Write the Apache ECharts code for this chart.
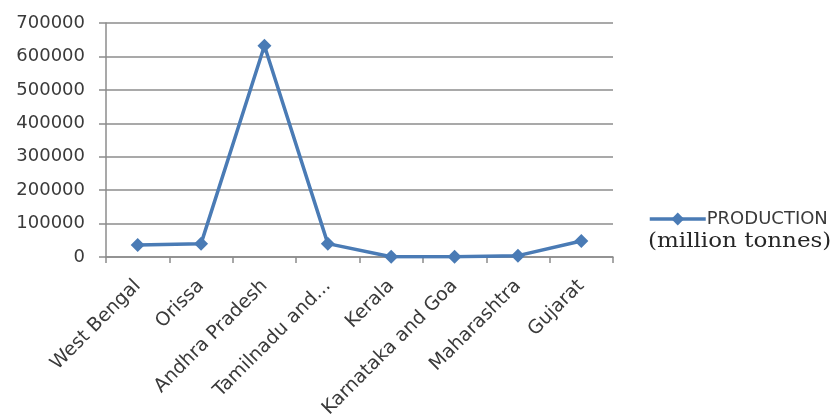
<!DOCTYPE html>
<html>
<head>
<meta charset="utf-8">
<script src="https://cdn.jsdelivr.net/npm/echarts@6/dist/echarts.min.js"></script>
<style>
  html, body { margin: 0; padding: 0; background: #ffffff; }
  #chart { width: 833px; height: 418px; }
</style>
</head>
<body>
<div id="chart"></div>
<script>
// Fish production by coastal state
const states = ['West Bengal', 'Orissa', 'Andhra Pradesh', 'Tamilnadu and...', 'Kerala', 'Karnataka and Goa', 'Maharashtra', 'Gujarat'];
const production = [36000, 40000, 632000, 40000, 1000, 1000, 4000, 48000];
const yTicks = { min: 0, max: 700000, step: 100000 };
const seriesName = 'PRODUCTION';
const unitNote = '(million tonnes)';

const lineBlue = '#4a7bb5';
const textColor = '#3a3a3a';
const gridGray = '#8c8c8c';

const chart = echarts.init(document.getElementById('chart'), null, { renderer: 'canvas' });

chart.setOption({
  backgroundColor: '#ffffff',
  animation: false,
  grid: { left: 106, right: 220, top: 23, bottom: 161, containLabel: false, outerBoundsMode: 'none' },
  legend: {
    data: [seriesName],
    left: 643,
    top: 205,
    itemWidth: 56,
    itemHeight: 16,
    itemGap: 0,
    lineStyle: { width: 3.5 },
    textStyle: { fontFamily: 'DejaVu Sans', fontSize: 18, color: textColor, padding: [0, 0, 0, -4] }
  },
  xAxis: {
    type: 'category',
    data: states,
    boundaryGap: true,
    axisLine: { lineStyle: { color: gridGray, width: 1.5 } },
    axisTick: { show: true, length: 6, lineStyle: { color: gridGray, width: 1.5 } },
    axisLabel: {
      interval: 0,
      rotate: 45,
      margin: 26,
      fontFamily: 'DejaVu Sans',
      fontSize: 19,
      color: textColor
    }
  },
  yAxis: {
    type: 'value',
    min: yTicks.min,
    max: yTicks.max,
    interval: yTicks.step,
    axisLine: { show: true, lineStyle: { color: gridGray, width: 1.5 } },
    axisTick: { show: true, length: 7, lineStyle: { color: gridGray, width: 1.5 } },
    splitLine: { show: true, lineStyle: { color: gridGray, width: 1.5 } },
    axisLabel: {
      margin: 21,
      fontFamily: 'DejaVu Sans',
      fontSize: 18,
      color: textColor,
      formatter: (v) => String(v)
    }
  },
  series: [{
    name: seriesName,
    type: 'line',
    data: production,
    symbol: 'diamond',
    symbolSize: 14,
    lineStyle: { color: lineBlue, width: 3.5 },
    itemStyle: { color: lineBlue },
    z: 5
  }],
  graphic: [{
    type: 'text',
    x: 648,
    y: 232,
    scaleX: 1.15,
    style: {
      text: unitNote,
      fontFamily: 'DejaVu Serif',
      fontSize: 20,
      fill: '#262626'
    }
  }]
});
</script>
</body>
</html>
